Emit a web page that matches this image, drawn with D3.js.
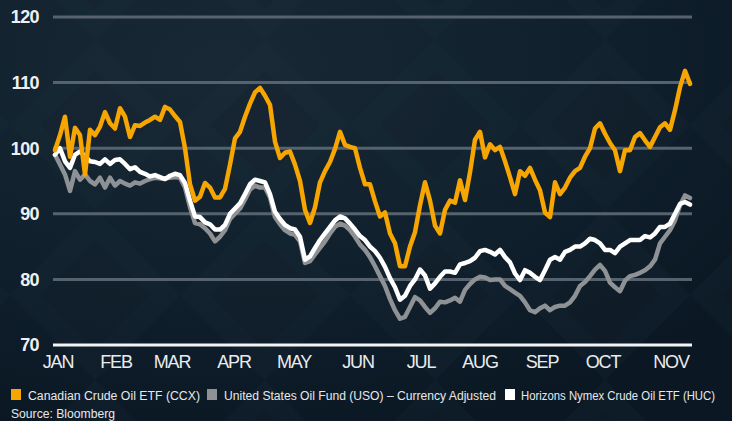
<!DOCTYPE html>
<html>
<head>
<meta charset="utf-8">
<script src="https://cdn.jsdelivr.net/npm/d3@7/dist/d3.min.js"></script>
<style>
  html, body { margin: 0; padding: 0; background: #0f1d29; }
  svg { display: block; }
</style>
</head>
<body>
<script>
// ---- DATA ----
const months = ["JAN","FEB","MAR","APR","MAY","JUN","JUL","AUG","SEP","OCT","NOV"];
// position of each month label, in sample-index units
const monthIdx = [0.6, 12.2, 23.4, 35.8, 47.8, 60.6, 73.2, 85.0, 97.4, 109.6, 123.2];
const yTicks = [70, 80, 90, 100, 110, 120];

const ccx = [
  99.7,102.0,104.8,98.7,103.1,102.0,96.0,102.8,102.0,103.3,
  105.5,103.8,103.0,106.1,104.8,101.7,103.5,103.4,103.9,104.3,
  104.8,104.3,106.3,105.9,104.9,104.0,100.0,94.5,92.0,92.6,
  94.7,94.0,92.5,92.5,93.8,97.5,101.5,102.5,104.8,106.8,
  108.5,109.2,108.0,106.6,101.0,98.5,99.3,99.5,97.5,95.0,
  90.6,88.6,91.0,94.8,96.5,97.9,99.9,102.5,100.5,100.2,
  100.0,97.0,94.5,94.5,91.9,89.6,90.2,87.0,85.5,82.0,
  82.0,85.0,87.2,91.3,94.8,92.0,88.2,87.0,90.6,92.0,
  91.7,95.1,92.1,96.3,101.3,102.5,98.6,100.6,99.7,100.2,
  98.0,95.6,93.0,96.5,95.8,97.0,95.2,93.6,90.2,89.5,
  94.8,93.0,94.0,95.5,96.5,97.0,98.7,100.0,103.0,103.8,
  102.2,100.8,99.7,96.5,99.7,99.7,101.7,102.3,101.2,100.2,
  101.7,103.2,103.8,102.8,105.8,109.3,111.8,109.8
];
const uso = [
  99.0,97.5,96.0,93.5,96.5,95.2,96.0,95.0,94.5,95.5,
  94.0,95.5,94.3,95.0,94.6,94.3,94.8,94.6,95.0,95.3,
  95.5,95.4,95.4,95.5,95.6,95.5,94.0,91.0,88.6,88.4,
  87.8,87.0,85.8,86.5,87.5,89.2,90.0,90.8,92.2,93.7,
  94.3,94.0,94.0,92.5,89.5,88.4,87.5,87.0,86.8,85.8,
  82.5,82.8,83.8,84.8,85.8,87.0,88.0,88.5,88.2,87.5,
  86.5,85.3,84.5,83.4,82.0,80.5,79.0,77.0,75.3,74.0,
  74.3,75.8,77.3,76.8,75.8,74.9,75.6,76.6,76.5,76.8,
  77.2,76.6,78.4,79.3,80.0,80.4,80.3,79.9,80.0,80.0,
  79.0,78.5,78.0,77.5,76.5,75.3,75.0,75.6,76.0,75.3,
  75.8,76.0,76.0,76.5,77.5,79.0,79.6,80.5,81.5,82.2,
  81.3,79.5,78.8,78.2,79.8,80.5,80.7,81.0,81.4,82.0,
  83.0,85.5,86.5,87.5,89.0,91.3,92.8,92.4
];
const huc = [
  99.0,100.0,98.0,97.0,99.0,99.5,98.8,98.0,97.9,97.6,
  98.3,97.6,98.2,98.3,97.6,96.8,97.1,96.4,96.1,95.7,
  95.9,95.6,95.3,95.8,96.1,95.9,94.7,92.0,89.6,89.5,
  88.7,88.4,87.6,87.6,88.3,90.0,90.8,91.6,93.0,94.5,
  95.2,95.0,94.8,93.0,90.3,89.2,88.3,87.8,87.6,86.5,
  83.0,83.5,84.8,86.0,87.0,88.0,89.0,89.6,89.3,88.5,
  87.6,86.6,86.0,85.0,84.3,83.3,81.9,80.2,78.8,76.9,
  77.5,79.0,80.0,81.5,80.6,78.6,79.4,80.4,81.2,81.2,
  81.0,82.3,82.5,82.8,83.3,84.3,84.5,84.2,83.8,84.5,
  83.4,82.6,80.9,79.9,81.4,81.0,80.4,79.9,81.4,83.0,
  83.4,83.0,84.2,84.5,85.0,85.0,85.5,86.2,86.0,85.5,
  84.5,84.5,84.0,85.0,85.5,86.0,86.0,86.0,86.6,86.4,
  87.0,88.0,88.0,88.5,90.0,91.5,91.8,91.4
];
const seriesNames = ["Canadian Crude Oil ETF (CCX)", "United States Oil Fund (USO) \u2013 Currency Adjusted", "Horizons Nymex Crude Oil ETF (HUC)"];
const sourceText = "Source: Bloomberg";

// ---- CHART ----
const W = 732, H = 421;
const svg = d3.select("body").append("svg").attr("width", W).attr("height", H);
const defs = svg.append("defs");

const bg = defs.append("radialGradient").attr("id", "bg").attr("cx", "30%").attr("cy", "15%").attr("r", "90%");
bg.append("stop").attr("offset", "0%").attr("stop-color", "#182835");
bg.append("stop").attr("offset", "55%").attr("stop-color", "#10202d");
bg.append("stop").attr("offset", "100%").attr("stop-color", "#0b1824");
svg.append("rect").attr("width", W).attr("height", H).attr("fill", "url(#bg)");

const pat = defs.append("pattern").attr("id", "dia").attr("patternUnits", "userSpaceOnUse")
  .attr("width", 170).attr("height", 170).attr("patternTransform", "translate(10,40)");
pat.append("path").attr("d", "M85,0 L170,85 L85,170 L0,85 Z").attr("fill", "#2b3e4f").attr("opacity", 0.09);
pat.append("path").attr("d", "M85,30 L140,85 L85,140 L30,85 Z").attr("fill", "#08121b").attr("opacity", 0.12);
svg.append("rect").attr("width", W).attr("height", H).attr("fill", "url(#dia)");

const n = ccx.length;
const x = d3.scaleLinear().domain([0, n - 1]).range([55, 690]);
const y = d3.scaleLinear().domain([70, 120]).range([345, 17]);

const font = "'Liberation Sans', Arial, Helvetica, sans-serif";

// gridlines
svg.append("g").selectAll("line").data(yTicks).join("line")
  .attr("x1", 53).attr("x2", 692)
  .attr("y1", d => y(d)).attr("y2", d => y(d))
  .attr("stroke", d => d === 70 ? "#f2f4f6" : "#56636f")
  .attr("stroke-width", 3);

// y labels
svg.append("g").selectAll("text").data(yTicks).join("text")
  .attr("x", 39).attr("y", d => y(d)).attr("dy", "0.36em")
  .attr("text-anchor", "end")
  .attr("font-family", font).attr("font-size", 18).attr("font-weight", "bold")
  .attr("letter-spacing", -0.6)
  .attr("fill", "#eef1f3")
  .text(d => d);

// month labels
svg.append("g").selectAll("text").data(months).join("text")
  .attr("x", (d, i) => x(monthIdx[i])).attr("y", 368)
  .attr("text-anchor", "middle")
  .attr("font-family", font).attr("font-size", 18)
  .attr("letter-spacing", -1.2)
  .attr("fill", "#e9ecef")
  .text(d => d);

// lines
const line = d3.line().x((d, i) => x(i)).y(d => y(d)).curve(d3.curveLinear);
const series = [
  { data: uso, color: "#8f9295" },
  { data: huc, color: "#ffffff" },
  { data: ccx, color: "#f7a500" }
];
svg.append("g").selectAll("path").data(series).join("path")
  .attr("d", d => line(d.data))
  .attr("fill", "none")
  .attr("stroke", d => d.color)
  .attr("stroke-width", 4.5)
  .attr("stroke-linejoin", "round")
  .attr("stroke-linecap", "round");

// legend
const legend = [
  { name: seriesNames[0], color: "#f7a500", sx: 11, tx: 28, tl: 172 },
  { name: seriesNames[1], color: "#8f9295", sx: 207, tx: 224, tl: 272 },
  { name: seriesNames[2], color: "#ffffff", sx: 505, tx: 521, tl: 194 }
];
const lg = svg.append("g");
lg.selectAll("rect").data(legend).join("rect")
  .attr("x", d => d.sx).attr("y", 389).attr("width", 10).attr("height", 11)
  .attr("fill", d => d.color);
lg.selectAll("text").data(legend).join("text")
  .attr("x", d => d.tx).attr("y", 400)
  .attr("font-family", font).attr("font-size", 12)
  .attr("textLength", d => d.tl).attr("lengthAdjust", "spacingAndGlyphs")
  .attr("fill", "#e6e9ec")
  .text(d => d.name);

svg.append("text").attr("x", 11).attr("y", 418)
  .attr("font-family", font).attr("font-size", 12)
  .attr("textLength", 104).attr("lengthAdjust", "spacingAndGlyphs")
  .attr("fill", "#e6e9ec")
  .text(sourceText);
</script>
</body>
</html>
